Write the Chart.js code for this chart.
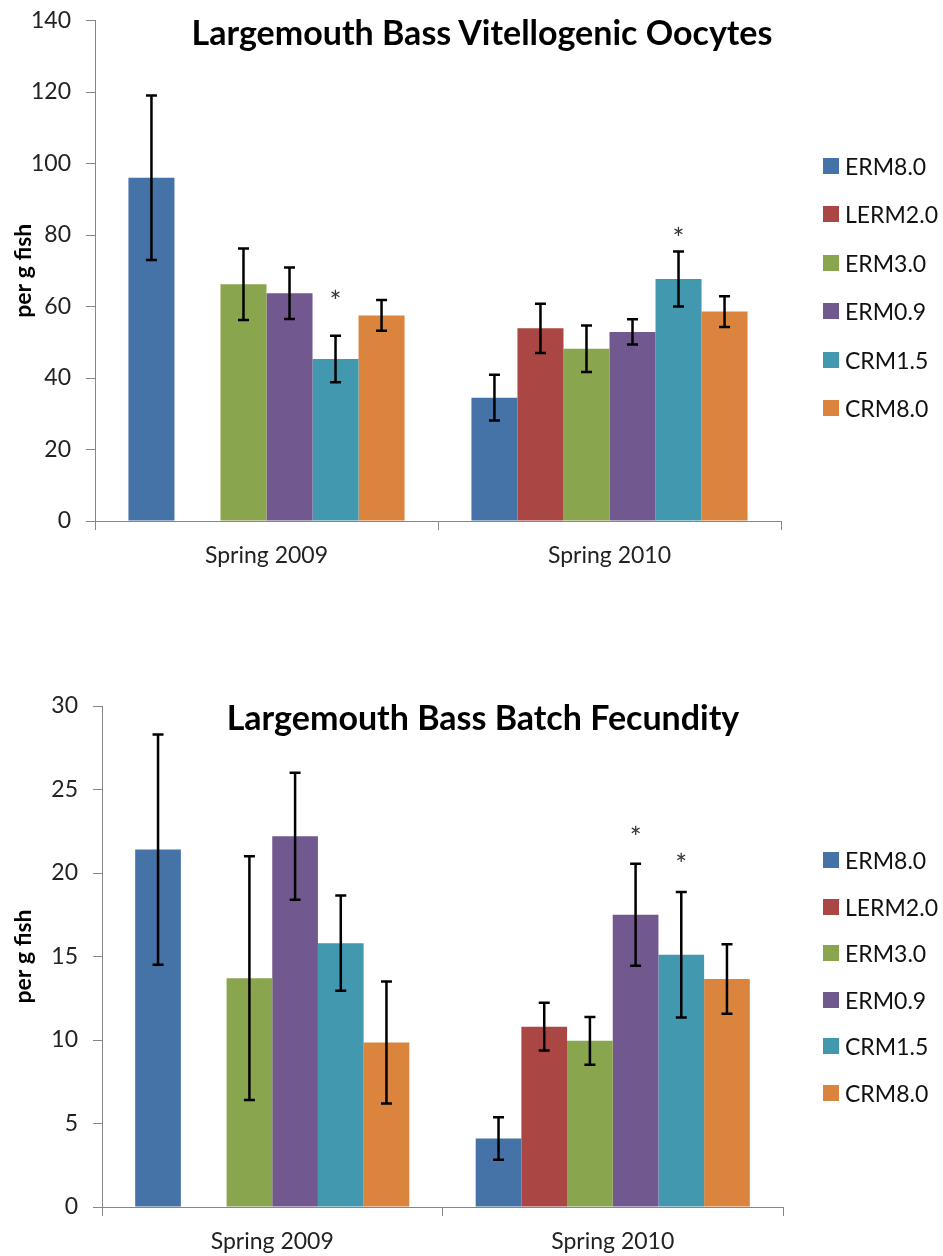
<!DOCTYPE html>
<html>
<head>
<meta charset="utf-8">
<title>Largemouth Bass</title>
<script src="https://cdn.jsdelivr.net/npm/chart.js@4.4.1/dist/chart.umd.min.js"></script>
<style>
    body { margin: 0; background: #fff; width: 943px; height: 1256px; position: relative; overflow: hidden; font-family: Lato, sans-serif; }
    .panel { position: absolute; left: 0; width: 943px; }
    .panel canvas { position: absolute; left: 0; top: 0; }
    .chart-title { position: absolute; font-weight: bold; font-size: 34px; line-height: 34px; color: #000; white-space: nowrap; transform: translateX(-50%); }
    .legend-item { position: absolute; left: 823px; height: 24px; line-height: 24px; display: flex; align-items: center; white-space: nowrap; font-size: 23px; color: #111; }
    .swatch { width: 16px; height: 16px; margin-right: 6px; }
</style>
</head>
<body>

<div class="panel" id="oocyte-panel" style="top:0; height:575px;">
    <canvas id="oocyte-chart" width="943" height="575"></canvas>
    <div class="chart-title" style="left:482px; top:15px;">Largemouth Bass Vitellogenic Oocytes</div>
</div>

<div class="panel" id="fecundity-panel" style="top:690px; height:566px;">
    <canvas id="fecundity-chart" width="943" height="566"></canvas>
    <div class="chart-title" style="left:483px; top:10px;">Largemouth Bass Batch Fecundity</div>
</div>

<script>
// Data
const categories = ['Spring 2009', 'Spring 2010'];
const seriesNames = ['ERM8.0', 'LERM2.0', 'ERM3.0', 'ERM0.9', 'CRM1.5', 'CRM8.0'];
const seriesColors = ['#4572A7', '#AA4643', '#89A54E', '#71588F', '#4198AF', '#DB843D'];

// Vitellogenic oocytes per g fish, one row per series: [2009, 2010]
const oocyteMeans = [
    [96.0, 34.5],
    [null, 53.9],
    [66.2, 48.2],
    [63.7, 52.9],
    [45.3, 67.7],
    [57.5, 58.6]
];
const oocyteErrors = [
    [23.0, 6.4],
    [null, 6.9],
    [10.0, 6.5],
    [7.2, 3.5],
    [6.5, 7.7],
    [4.3, 4.3]
];
// significance marks: [series, category, level]
const oocyteStars = [[4, 0, 62.6], [4, 1, 80.2]];
const oocyteTicks = [0, 20, 40, 60, 80, 100, 120, 140];

// Batch fecundity per g fish
const fecundityMeans = [
    [21.4, 4.1],
    [null, 10.8],
    [13.7, 9.95],
    [22.2, 17.5],
    [15.8, 15.1],
    [9.85, 13.65]
];
const fecundityErrors = [
    [6.9, 1.27],
    [null, 1.43],
    [7.3, 1.43],
    [3.8, 3.05],
    [2.85, 3.76],
    [3.65, 2.08]
];
const fecundityStars = [[3, 1, 22.4], [4, 1, 20.8]];
const fecundityTicks = [0, 5, 10, 15, 20, 25, 30];

const axisColor = '#868686';

// Error bars and asterisks drawn on top of the bars
function makeErrorBarPlugin(stars) {
    return {
        id: 'errorBars',
        afterDatasetsDraw(chart) {
            const ctx = chart.ctx;
            const yScale = chart.scales.y;
            ctx.save();
            ctx.strokeStyle = '#000';
            ctx.lineWidth = 2.5;
            chart.data.datasets.forEach((ds, i) => {
                const meta = chart.getDatasetMeta(i);
                ds.errors.forEach((err, j) => {
                    const val = ds.data[j];
                    if (val == null || err == null) return;
                    const x = meta.data[j].x;
                    const top = yScale.getPixelForValue(val + err);
                    const bottom = yScale.getPixelForValue(val - err);
                    ctx.beginPath();
                    ctx.moveTo(x, top);
                    ctx.lineTo(x, bottom);
                    ctx.moveTo(x - 5.5, top);
                    ctx.lineTo(x + 5.5, top);
                    ctx.moveTo(x - 5.5, bottom);
                    ctx.lineTo(x + 5.5, bottom);
                    ctx.stroke();
                });
            });
            ctx.fillStyle = '#333';
            ctx.font = '28px Lato';
            ctx.textAlign = 'center';
            ctx.textBaseline = 'alphabetic';
            stars.forEach(([s, c, level]) => {
                const x = chart.getDatasetMeta(s).data[c].x;
                const y = yScale.getPixelForValue(level);
                ctx.fillText('*', x, y + 15);
            });
            ctx.restore();
        }
    };
}

function makeChart(canvasId, means, errors, stars, ticks, area) {
    const datasets = seriesNames.map((name, i) => ({
        label: name,
        data: means[i],
        errors: errors[i],
        backgroundColor: seriesColors[i],
        borderWidth: 0,
        categoryPercentage: 0.805,
        barPercentage: 1.0
    }));

    const chart = new Chart(document.getElementById(canvasId), {
        type: 'bar',
        data: { labels: categories, datasets: datasets },
        options: {
            responsive: false,
            animation: false,
            devicePixelRatio: 1,
            layout: { padding: { top: area.top, right: area.right, bottom: 0, left: 0 } },
            plugins: { legend: { display: false }, tooltip: { enabled: false } },
            scales: {
                x: {
                    grid: { offset: true, drawOnChartArea: false, color: axisColor, tickLength: 9, lineWidth: 1 },
                    border: { color: axisColor, width: 1 },
                    ticks: { color: '#222', font: { family: 'Lato', size: 23 }, padding: 12 },
                    afterFit: scale => {
                        scale.height = area.xHeight;
                        scale.paddingLeft = 0;
                        scale.paddingRight = 0;
                    }
                },
                y: {
                    min: ticks[0],
                    max: ticks[ticks.length - 1],
                    afterBuildTicks: scale => { scale.ticks = ticks.map(v => ({ value: v })); },
                    grid: { drawOnChartArea: false, color: axisColor, tickLength: 9, lineWidth: 1 },
                    border: { color: axisColor, width: 1 },
                    ticks: { color: '#222', font: { family: 'Lato', size: 23 }, padding: 15 },
                    title: { display: true, text: 'per g fish', color: '#000', font: { family: 'Lato', size: 23, weight: 'bold' }, padding: { top: 10, bottom: 0 } },
                    afterFit: scale => {
                        scale.width = area.left;
                        scale.paddingTop = 0;
                        scale.paddingBottom = 0;
                    }
                }
            }
        },
        plugins: [makeErrorBarPlugin(stars)]
    });
    return chart;
}

// Build legend from the chart's datasets
function buildLegend(panelId, chart, firstCenter, step) {
    const panel = document.getElementById(panelId);
    chart.data.datasets.forEach((ds, i) => {
        const item = document.createElement('div');
        item.className = 'legend-item';
        item.style.top = (firstCenter + i * step - 12) + 'px';
        item.innerHTML = `<div class="swatch" style="background:${ds.backgroundColor}"></div><span>${ds.label}</span>`;
        panel.appendChild(item);
    });
}

const oocyteChart = makeChart('oocyte-chart', oocyteMeans, oocyteErrors, oocyteStars, oocyteTicks,
    { top: 20.5, right: 162, left: 95, xHeight: 54 });
buildLegend('oocyte-panel', oocyteChart, 166, 48.4);

const fecundityChart = makeChart('fecundity-chart', fecundityMeans, fecundityErrors, fecundityStars, fecundityTicks,
    { top: 16, right: 160, left: 102, xHeight: 49 });
buildLegend('fecundity-panel', fecundityChart, 170, 46.6);
</script>
</body>
</html>
